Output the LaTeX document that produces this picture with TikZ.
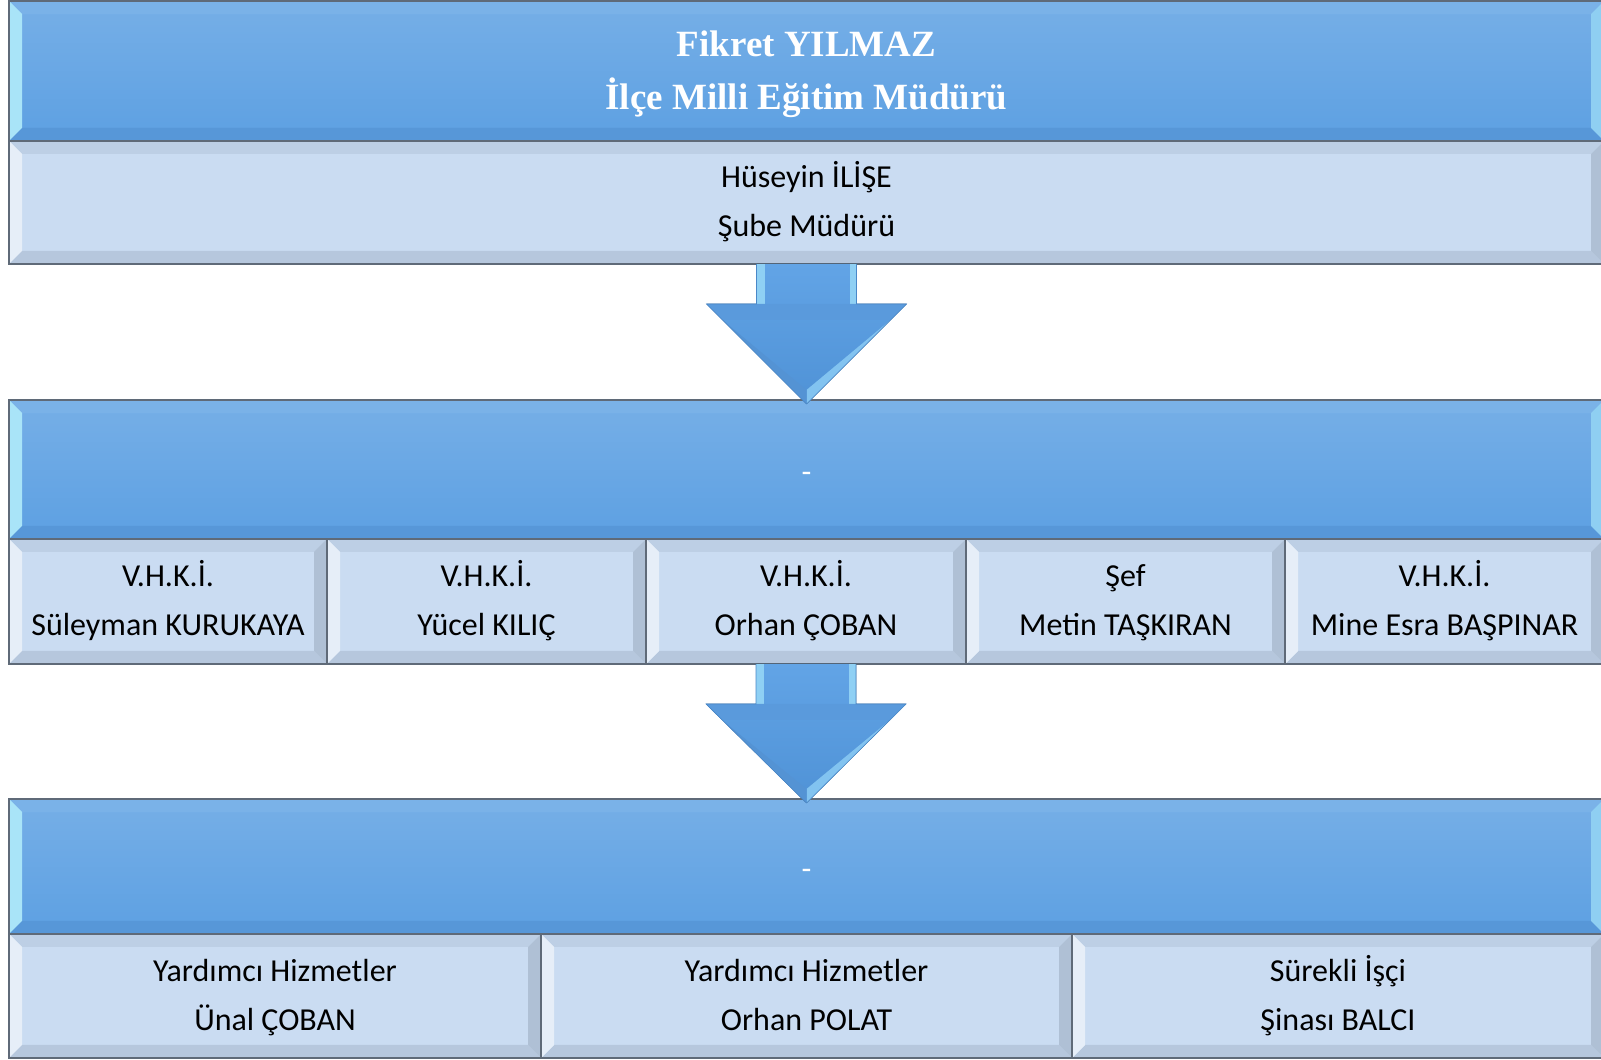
\documentclass[tikz,border=0pt]{standalone}
\usepackage{fontspec}
\setmainfont{Carlito}
\newfontfamily\hdrfont{Liberation Serif}
\usetikzlibrary{calc}
\definecolor{bluetop}{HTML}{76AFE7}
\definecolor{bluebot}{HTML}{5DA0E2}
\definecolor{bluebevtop}{HTML}{7AB2E8}
\definecolor{bluebevleft}{HTML}{A9E4F8}
\definecolor{bluebevright}{HTML}{8FCFF2}
\definecolor{bluebevbot}{HTML}{5797D8}
\definecolor{lightfill}{HTML}{CADCF2}
\definecolor{lbevtop}{HTML}{BDCFE5}
\definecolor{lbevleft}{HTML}{E6EEF8}
\definecolor{lbevright}{HTML}{AFC0D5}
\definecolor{lbevbot}{HTML}{B6C7DD}
\definecolor{edgegray}{HTML}{5F6A78}
\definecolor{arrowtop}{HTML}{62A4E6}
\definecolor{arrowbot}{HTML}{4F92D6}
\definecolor{arrowhi}{HTML}{8FD0F4}
\definecolor{arrowdark}{HTML}{4A88C8}
% two text lines with fixed struts: height, depth, line1, line2
\newcommand\twolines[4]{\rule{0pt}{#1pt}#3\\#4\rule[-#2pt]{0pt}{#2pt}}
\newcommand\lbtext[2]{\twolines{34.3}{14.7}{#1}{#2}}
\newcommand\hdtext[2]{\twolines{39}{14}{#1}{#2}}
\newcommand\onetext[1]{\rule[-11.5pt]{0pt}{49pt}#1}
\tikzset{
  bluebox/.style={rectangle, inner sep=0pt, outer sep=0pt, anchor=north west,
    top color=bluetop, bottom color=bluebot, text=white, align=center},
  lightbox/.style={rectangle, inner sep=0pt, outer sep=0pt, anchor=north west,
    fill=lightfill, text=black, align=center, font=\fontsize{32}{49}\selectfont},
  hdrtext/.style={font=\hdrfont\bfseries\fontsize{37}{53}\selectfont},
  dashtext/.style={font=\fontsize{32}{49}\selectfont},
  boxedge/.style={draw=edgegray, line width=1.3pt},
  arrowbody/.style={top color=arrowtop, bottom color=arrowbot},
}
% bevel: name, width, top, left, right, bottom
\newcommand\bevelbox[6]{%
  \fill[#3] (#1.north west) -- (#1.north east) -- ($(#1.north east)+(-#2,-#2)$) -- ($(#1.north west)+(#2,-#2)$) -- cycle;
  \fill[#6] (#1.south west) -- (#1.south east) -- ($(#1.south east)+(-#2,#2)$) -- ($(#1.south west)+(#2,#2)$) -- cycle;
  \fill[#4] (#1.north west) -- (#1.south west) -- ($(#1.south west)+(#2,#2)$) -- ($(#1.north west)+(#2,-#2)$) -- cycle;
  \fill[#5] (#1.north east) -- (#1.south east) -- ($(#1.south east)+(-#2,#2)$) -- ($(#1.north east)+(-#2,-#2)$) -- cycle;
  \draw[boxedge] (#1.north west) rectangle (#1.south east);
}
\newcommand\bluebevel[1]{\bevelbox{#1}{13}{bluebevtop}{bluebevleft}{bluebevright}{bluebevbot}}
\newcommand\lightbevel[1]{\bevelbox{#1}{13}{lbevtop}{lbevleft}{lbevright}{lbevbot}}
% block arrow: start node (south), target node (north)
\newcommand\blockarrow[2]{%
  \coordinate (s) at (#1.south);
  \coordinate (t) at ($(#2.north)+(0,-4)$);
  \fill[arrowbody] ($(s)+(-50,0)$) -- ($(s)+(50,0)$) -- ($(s)+(50,-40)$) -- ($(s)+(100,-40)$)
     -- (t) -- ($(s)+(-100,-40)$) -- ($(s)+(-50,-40)$) -- cycle;
  \fill[arrowhi] ($(s)+(-50,0)$) rectangle ($(s)+(-42,-40)$);
  \fill[arrowhi] ($(s)+(43,0)$) rectangle ($(s)+(50,-40)$);
  \fill[arrowdark!35!arrowtop] ($(s)+(-100,-40)$) -- ($(s)+(100,-40)$) -- ($(s)+(84,-56)$) -- ($(s)+(-84,-56)$) -- cycle;
  \fill[arrowhi!70!arrowtop] ($(s)+(100,-40)$) -- (t) -- ($(t)+(0,14)$) -- ($(s)+(84,-56)$) -- cycle;
  \fill[arrowdark!60!arrowtop] ($(s)+(-100,-40)$) -- (t) -- ($(t)+(0,14)$) -- ($(s)+(-84,-56)$) -- cycle;
  \draw[arrowdark, line width=0.6pt] ($(s)+(-50,0)$) -- ($(s)+(-50,-40)$) -- ($(s)+(-100,-40)$) -- (t)
     -- ($(s)+(100,-40)$) -- ($(s)+(50,-40)$) -- ($(s)+(50,0)$);
}
\begin{document}
\begin{tikzpicture}[x=1pt,y=1pt]
\clip (0,0) rectangle (1601,1060);
\fill[white] (0,0) rectangle (1601,1060);
% level 1
\node[bluebox, minimum width=1595, minimum height=140, hdrtext] (mudur) at (9,1059)
  {\hdtext{Fikret YILMAZ}{İlçe Milli Eğitim Müdürü}};
\bluebevel{mudur}
\node[lightbox, minimum width=1595, minimum height=123] (sube) at (9,919)
  {\lbtext{Hüseyin İLİŞE}{Şube Müdürü}};
\lightbevel{sube}
% level 2
\node[bluebox, minimum width=1595, minimum height=139, dashtext] (grp2) at (9,660) {\onetext{-}};
\bluebevel{grp2}
\node[lightbox, minimum width=318, minimum height=125] (p1) at (9,521) {\lbtext{V.H.K.İ.}{Süleyman KURUKAYA}};
\lightbevel{p1}
\node[lightbox, minimum width=319, minimum height=125] (p2) at (327,521) {\lbtext{V.H.K.İ.}{Yücel KILIÇ}};
\lightbevel{p2}
\node[lightbox, minimum width=320, minimum height=125] (p3) at (646,521) {\lbtext{V.H.K.İ.}{Orhan ÇOBAN}};
\lightbevel{p3}
\node[lightbox, minimum width=319, minimum height=125] (p4) at (966,521) {\lbtext{Şef}{Metin TAŞKIRAN}};
\lightbevel{p4}
\node[lightbox, minimum width=319, minimum height=125] (p5) at (1285,521) {\lbtext{V.H.K.İ.}{Mine Esra BAŞPINAR}};
\lightbevel{p5}
% level 3
\node[bluebox, minimum width=1595, minimum height=135, dashtext] (grp3) at (9,261) {\onetext{-}};
\bluebevel{grp3}
\node[lightbox, minimum width=532, minimum height=124] (q1) at (9,126) {\lbtext{Yardımcı Hizmetler}{Ünal ÇOBAN}};
\lightbevel{q1}
\node[lightbox, minimum width=531, minimum height=124] (q2) at (541,126) {\lbtext{Yardımcı Hizmetler}{Orhan POLAT}};
\lightbevel{q2}
\node[lightbox, minimum width=532, minimum height=124] (q3) at (1072,126) {\lbtext{Sürekli İşçi}{Şinası BALCI}};
\lightbevel{q3}
% arrows
\blockarrow{sube}{grp2}
\blockarrow{p3}{grp3}
\end{tikzpicture}
\end{document}
